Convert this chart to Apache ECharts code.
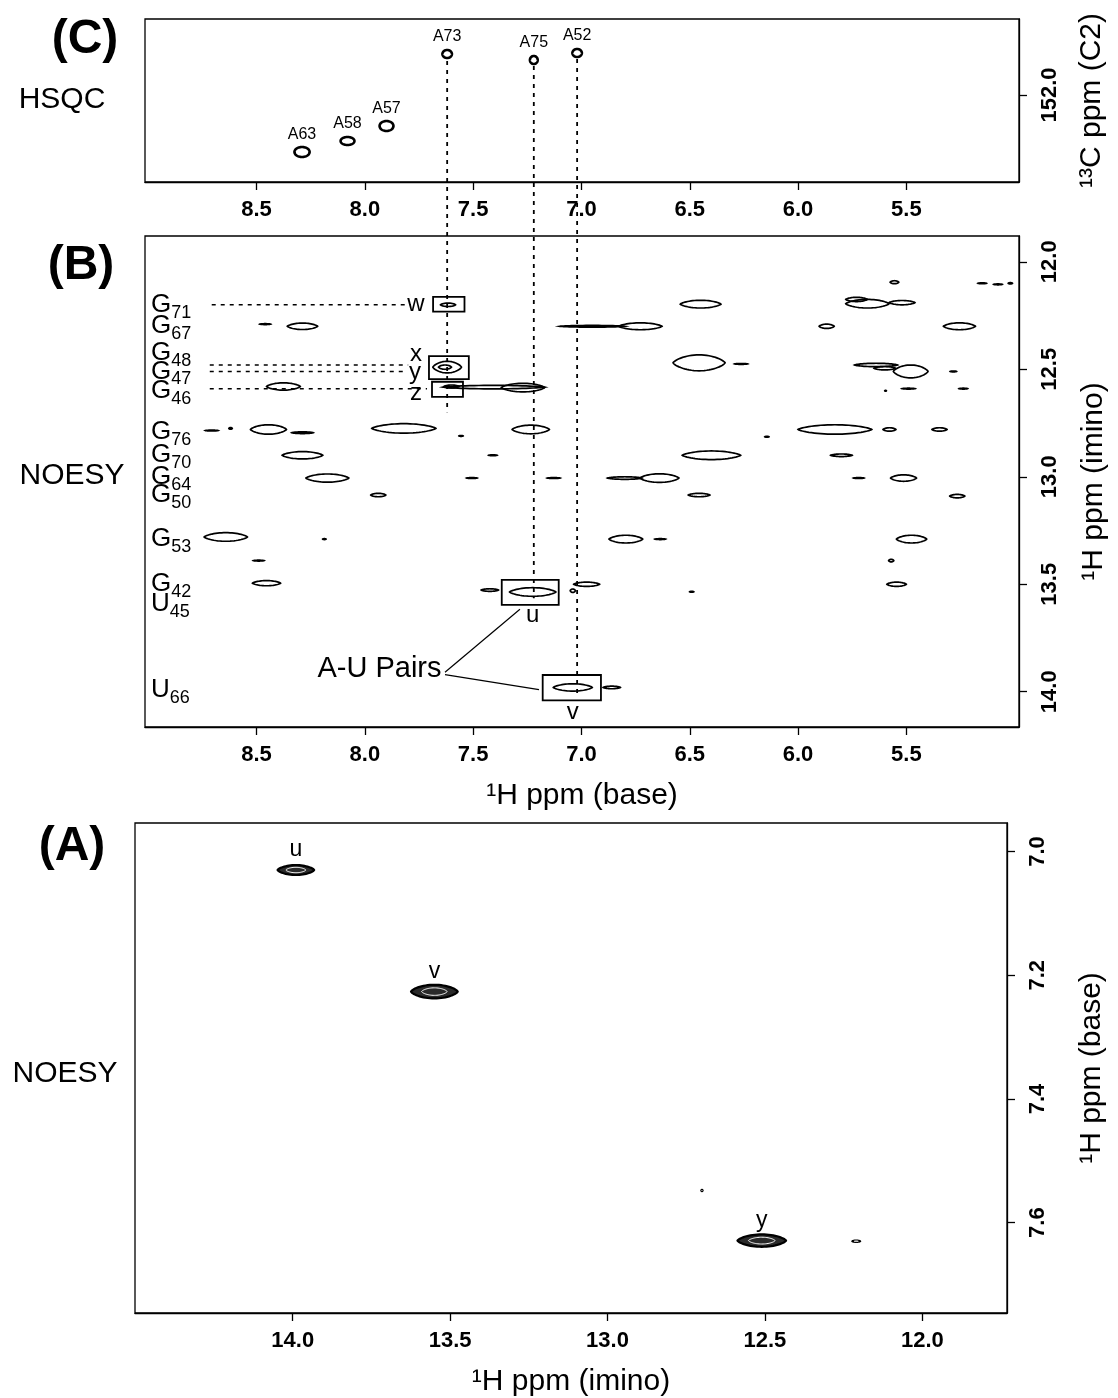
<!DOCTYPE html>
<html>
<head>
<meta charset="utf-8">
<script src="https://cdn.jsdelivr.net/npm/echarts@6/dist/echarts.min.js"></script>
<style>
    html, body { margin: 0; padding: 0; background: #fff; }
    #container { width: 1118px; height: 1398px; }
</style>
</head>
<body>
<div id="container"></div>
<script>
    // tick values
    var baseTicks = [8.5, 8.0, 7.5, 7.0, 6.5, 6.0, 5.5];
    var carbonTicks = [152.0];
    var iminoTicks = [12.0, 12.5, 13.0, 13.5, 14.0];
    var iminoTicksA = [14.0, 13.5, 13.0, 12.5, 12.0];
    var baseTicksA = [7.0, 7.2, 7.4, 7.6];

    // (C) HSQC: [1H base, 13C, half width 1H, half width 13C]
    var hsqcNames = ['A73', 'A75', 'A52', 'A57', 'A58', 'A63'];
    var hsqcPeaks = [[7.62, 151.18, 0.022, 0.08], [7.22, 151.30, 0.018, 0.08], [7.02, 151.16, 0.022, 0.08],
        [7.90, 152.62, 0.032, 0.10], [8.08, 152.92, 0.032, 0.08], [8.29, 153.14, 0.035, 0.10]];

    // (B) NOESY imino rows
    var rowNames = ['G71', 'G67', 'G48', 'G47', 'G46', 'G76', 'G70', 'G64', 'G50', 'G53', 'G42', 'U45', 'U66'];
    var rowShifts = [12.20, 12.30, 12.425, 12.51, 12.60, 12.79, 12.90, 13.00, 13.085, 13.29, 13.50, 13.59, 13.99];

    // (B) cross peaks: [1H base, 1H imino, half width base, half width imino]
    var noesyPeaks = [
        [7.616, 12.20, 0.035, 0.008], [6.45, 12.197, 0.094, 0.018], [5.68, 12.195, 0.10, 0.02],
        [5.52, 12.19, 0.06, 0.01], [5.73, 12.175, 0.05, 0.01], [5.555, 12.095, 0.02, 0.007],
        [5.15, 12.10, 0.02, 0.002], [5.077, 12.105, 0.02, 0.002], [5.02, 12.10, 0.01, 0.003],
        [8.46, 12.29, 0.025, 0.002], [8.288, 12.30, 0.07, 0.015], [6.95, 12.30, 0.15, 0.004],
        [6.728, 12.30, 0.10, 0.016], [5.868, 12.30, 0.035, 0.01], [5.255, 12.30, 0.074, 0.016],
        [7.62, 12.49, 0.066, 0.027], [7.63, 12.49, 0.03, 0.01], [6.457, 12.47, 0.12, 0.037],
        [6.263, 12.475, 0.03, 0.002], [5.64, 12.48, 0.10, 0.008], [5.48, 12.51, 0.08, 0.03],
        [5.60, 12.495, 0.05, 0.008], [5.283, 12.51, 0.015, 0.002], [5.49, 12.59, 0.03, 0.002],
        [5.596, 12.60, 0.004, 0.002], [5.237, 12.59, 0.02, 0.002],
        [8.376, 12.58, 0.078, 0.017], [7.60, 12.58, 0.035, 0.007], [7.405, 12.583, 0.235, 0.008],
        [7.27, 12.585, 0.10, 0.02],
        [8.707, 12.785, 0.03, 0.002], [8.62, 12.775, 0.008, 0.004], [8.445, 12.78, 0.083, 0.022],
        [8.288, 12.795, 0.05, 0.004], [7.82, 12.775, 0.148, 0.022], [7.556, 12.81, 0.01, 0.002],
        [7.234, 12.78, 0.086, 0.02], [6.144, 12.814, 0.01, 0.002], [5.83, 12.78, 0.17, 0.022],
        [5.578, 12.78, 0.03, 0.008], [5.347, 12.78, 0.035, 0.008],
        [8.288, 12.90, 0.094, 0.017], [7.409, 12.90, 0.02, 0.002], [6.40, 12.90, 0.135, 0.02],
        [5.80, 12.90, 0.05, 0.006],
        [8.173, 13.006, 0.099, 0.019], [7.506, 13.006, 0.025, 0.002], [7.128, 13.006, 0.03, 0.002],
        [6.80, 13.006, 0.08, 0.006], [6.64, 13.006, 0.09, 0.02], [5.72, 13.006, 0.025, 0.002],
        [5.513, 13.006, 0.06, 0.015],
        [7.938, 13.085, 0.035, 0.008], [6.457, 13.085, 0.05, 0.008], [5.265, 13.09, 0.035, 0.008],
        [8.642, 13.28, 0.10, 0.02], [8.187, 13.29, 0.008, 0.002], [6.795, 13.29, 0.078, 0.018],
        [6.636, 13.29, 0.025, 0.002], [5.476, 13.29, 0.07, 0.018],
        [8.49, 13.39, 0.025, 0.002], [5.57, 13.39, 0.012, 0.006],
        [8.454, 13.495, 0.065, 0.012], [7.423, 13.527, 0.04, 0.006], [7.225, 13.536, 0.107, 0.02],
        [7.04, 13.53, 0.012, 0.008], [6.976, 13.50, 0.06, 0.01], [6.491, 13.535, 0.01, 0.002],
        [5.545, 13.50, 0.045, 0.01],
        [7.04, 13.98, 0.09, 0.017], [6.86, 13.98, 0.04, 0.006]
    ];

    // (B) boxed peaks: [base from, base to, imino from, imino to]
    var boxNames = ['w', 'xy', 'z', 'u', 'v'];
    var boxRanges = [[7.685, 7.54, 12.163, 12.232], [7.704, 7.52, 12.439, 12.546], [7.69, 7.547, 12.558, 12.628],
        [7.368, 7.105, 13.48, 13.596], [7.179, 6.91, 13.922, 14.04]];

    // (B) peak letters
    var tagNames = ['w', 'x', 'y', 'z', 'u', 'v'];
    var tagSpots = [[7.764, 12.20], [7.764, 12.43], [7.769, 12.513], [7.764, 12.61], [7.225, 13.643], [7.04, 14.094]];

    // (B) dotted row guides: [base from, base to, imino]
    var rowGuides = [[8.707, 7.787, 12.20], [8.716, 7.80, 12.48], [8.716, 7.819, 12.51], [8.716, 7.713, 12.59]];

    // A-U pair leaders: [base, imino, base, imino]
    var pairLeaders = [[7.63, 13.909, 7.284, 13.616], [7.63, 13.92, 7.196, 13.99]];

    // C -> B dotted links: base shift, 13C start, imino end
    var linkBase = [7.62, 7.22, 7.02];
    var linkCarbon = [151.32, 151.42, 151.28];
    var linkImino = [12.70, 13.565, 14.02];

    // (A) NOESY: [1H imino, 1H base, half width imino, half width base]
    var aNames = ['u', 'v', 'y', '', ''];
    var aPeaks = [[13.99, 7.030, 0.058, 0.008], [13.55, 7.2265, 0.074, 0.011], [12.51, 7.629, 0.077, 0.01],
        [12.21, 7.63, 0.012, 0.001], [12.70, 7.548, 0.002, 0.001]];

    var FONT = '"Liberation Sans", Arial, Helvetica, sans-serif';
    var HIDDEN = { color: 'rgba(0,0,0,0)', opacity: 1 };

    function fmt(v) { return v.toFixed(1); }

    function lensSeries(idx, data, sharp, style, inner) {
        return {
            type: 'custom', xAxisIndex: idx, yAxisIndex: idx, silent: true, clip: false,
            data: data,
            renderItem: function (params, api) {
                var c = api.coord([api.value(0), api.value(1)]);
                var s = api.size([api.value(2), api.value(3)]);
                var make = function (k) {
                    var pts = [];
                    for (var i = 0; i < 64; i++) {
                        var t = i / 64 * Math.PI * 2;
                        var sn = Math.sin(t);
                        pts.push([c[0] + k * s[0] * Math.cos(t),
                            c[1] + k * s[1] * (sn < 0 ? -1 : 1) * Math.pow(Math.abs(sn), sharp)]);
                    }
                    return pts;
                };
                var children = [{ type: 'polygon', shape: { points: make(1) }, style: style }];
                if (inner) {
                    children.push({ type: 'polygon', shape: { points: make(0.55) }, style: inner });
                }
                return { type: 'group', children: children };
            }
        };
    }

    function textSeries(idx, data, label) {
        label.show = true;
        label.color = '#000';
        label.opacity = 1;
        label.fontFamily = FONT;
        return {
            type: 'scatter', xAxisIndex: idx, yAxisIndex: idx, silent: true, symbolSize: 1,
            itemStyle: HIDDEN, data: data, label: label
        };
    }

    function xAxisOf(idx, min, max, ticks, name) {
        return {
            type: 'value', gridIndex: idx, min: min, max: max, inverse: true,
            name: name || '', nameLocation: 'middle', nameGap: 54,
            nameTextStyle: { fontSize: 30, color: '#000', fontFamily: FONT },
            axisLine: { show: true, onZero: false, lineStyle: { color: '#000', width: 1.3 } },
            axisTick: { show: true, inside: false, length: 8, customValues: ticks, lineStyle: { color: '#000', width: 1.3 } },
            axisLabel: { customValues: ticks, formatter: fmt, fontSize: 22, fontWeight: 'bold', color: '#000', fontFamily: FONT, margin: 17 },
            splitLine: { show: false }
        };
    }

    function yAxisOf(idx, min, max, ticks, name, gap) {
        return {
            type: 'value', gridIndex: idx, min: min, max: max, inverse: true, position: 'right',
            name: name, nameLocation: 'middle', nameGap: gap, nameRotate: 90,
            nameTextStyle: { fontSize: 30, color: '#000', fontFamily: FONT },
            axisLine: { show: true, onZero: false, lineStyle: { color: '#000', width: 1.3 } },
            axisTick: { show: true, inside: false, length: 8, customValues: ticks, lineStyle: { color: '#000', width: 1.3 } },
            axisLabel: { customValues: ticks, formatter: fmt, rotate: 90, fontSize: 22, fontWeight: 'bold', color: '#000', fontFamily: FONT, margin: 20 },
            splitLine: { show: false }
        };
    }

    var gridStyle = { show: true, borderColor: '#000', borderWidth: 1.3, backgroundColor: 'transparent' };

    var dom = document.getElementById('container');
    var myChart = echarts.init(dom);

    var option = {
        animation: false,
        backgroundColor: '#fff',
        grid: [
            Object.assign({ left: 145, top: 19, width: 874, height: 163 }, gridStyle),
            Object.assign({ left: 145, top: 236, width: 874, height: 491 }, gridStyle),
            Object.assign({ left: 135, top: 823, width: 872, height: 495 }, gridStyle)
        ],
        xAxis: [
            xAxisOf(0, 4.98, 9.015, baseTicks),
            xAxisOf(1, 4.98, 9.015, baseTicks, '\u00b9H ppm (base)'),
            xAxisOf(2, 11.731, 14.501, iminoTicksA, '\u00b9H ppm (imino)')
        ],
        yAxis: [
            yAxisOf(0, 150.48, 153.74, carbonTicks, '\u00b9\u00b3C ppm (C2)', 58),
            yAxisOf(1, 11.88, 14.164, iminoTicks, '\u00b9H ppm (imino)', 60),
            yAxisOf(2, 6.954, 7.746, baseTicksA, '\u00b9H ppm (base)', 70)
        ],
        graphic: [
            { type: 'text', id: 'tc', x: 85, y: 40, style: { text: '(C)', font: 'bold 48px ' + FONT, fill: '#000', align: 'center', verticalAlign: 'middle' } },
            { type: 'text', id: 'th', x: 62, y: 100, style: { text: 'HSQC', font: '30px ' + FONT, fill: '#000', align: 'center', verticalAlign: 'middle' } },
            { type: 'text', id: 'tb', x: 81, y: 266, style: { text: '(B)', font: 'bold 48px ' + FONT, fill: '#000', align: 'center', verticalAlign: 'middle' } },
            { type: 'text', id: 'nb', x: 72, y: 476, style: { text: 'NOESY', font: '30px ' + FONT, fill: '#000', align: 'center', verticalAlign: 'middle' } },
            { type: 'text', id: 'ta', x: 72, y: 847, style: { text: '(A)', font: 'bold 48px ' + FONT, fill: '#000', align: 'center', verticalAlign: 'middle' } },
            { type: 'text', id: 'na', x: 65, y: 1074, style: { text: 'NOESY', font: '30px ' + FONT, fill: '#000', align: 'center', verticalAlign: 'middle' } }
        ],
        series: [
            // C peaks
            lensSeries(0, hsqcPeaks, 1, { fill: 'none', stroke: '#000', lineWidth: 2.6 }),
            textSeries(0, hsqcPeaks.map(function (p, i) { return { name: hsqcNames[i], value: [p[0], p[1]] }; }),
                { position: 'top', distance: 9, formatter: '{b}', fontSize: 16 }),
            // B peaks
            lensSeries(1, noesyPeaks, 1.5, { fill: 'none', stroke: '#000', lineWidth: 1.7 }),
            // B boxes
            {
                type: 'custom', xAxisIndex: 1, yAxisIndex: 1, silent: true,
                data: boxRanges,
                renderItem: function (params, api) {
                    var a = api.coord([api.value(0), api.value(2)]);
                    var b = api.coord([api.value(1), api.value(3)]);
                    return {
                        type: 'rect',
                        shape: { x: Math.min(a[0], b[0]), y: Math.min(a[1], b[1]), width: Math.abs(b[0] - a[0]), height: Math.abs(b[1] - a[1]) },
                        style: { fill: 'none', stroke: '#000', lineWidth: 1.8 }
                    };
                }
            },
            // B row guides
            {
                type: 'custom', xAxisIndex: 1, yAxisIndex: 1, silent: true,
                data: rowGuides,
                renderItem: function (params, api) {
                    var a = api.coord([api.value(0), api.value(2)]);
                    var b = api.coord([api.value(1), api.value(2)]);
                    return { type: 'line', shape: { x1: a[0], y1: a[1], x2: b[0], y2: b[1] }, style: { stroke: '#000', lineWidth: 1.5, lineDash: [4, 5] } };
                }
            },
            // A-U pair leaders
            {
                type: 'custom', xAxisIndex: 1, yAxisIndex: 1, silent: true,
                data: pairLeaders,
                renderItem: function (params, api) {
                    var a = api.coord([api.value(0), api.value(1)]);
                    var b = api.coord([api.value(2), api.value(3)]);
                    return { type: 'line', shape: { x1: a[0], y1: a[1], x2: b[0], y2: b[1] }, style: { stroke: '#000', lineWidth: 1.2 } };
                }
            },
            // row names
            textSeries(1, rowNames.map(function (n, i) { return { name: n, value: [8.99, rowShifts[i]] }; }), {
                position: 'right', distance: 0,
                formatter: function (p) { return '{g|' + p.name.charAt(0) + '}{s|' + p.name.slice(1) + '}'; },
                rich: {
                    g: { fontSize: 26, lineHeight: 26, verticalAlign: 'top', color: '#000', fontFamily: FONT },
                    s: { fontSize: 18, lineHeight: 18, verticalAlign: 'top', padding: [12, 0, 0, 0], color: '#000', fontFamily: FONT }
                }
            }),
            // peak letters
            textSeries(1, tagNames.map(function (n, i) { return { name: n, value: tagSpots[i] }; }),
                { position: 'inside', formatter: '{b}', fontSize: 24 }),
            textSeries(1, [{ name: 'A-U Pairs', value: [pairLeaders[0][0], 13.895] }],
                { position: 'left', distance: 3, formatter: '{b}', fontSize: 29 }),
            // A peaks
            lensSeries(2, aPeaks, 1.4, { fill: '#2a2a2a', stroke: '#000', lineWidth: 2.2 }, { fill: 'none', stroke: '#fff', lineWidth: 1 }),
            textSeries(2, aPeaks.map(function (p, i) { return { name: aNames[i], value: [p[0], p[1]] }; }),
                { position: 'top', distance: 8, formatter: '{b}', fontSize: 23 })
        ]
    };

    myChart.setOption(option);

    // dotted links from HSQC peaks down into the NOESY panel
    var links = linkBase.map(function (x, i) {
        var a = myChart.convertToPixel({ gridIndex: 0 }, [x, linkCarbon[i]]);
        var b = myChart.convertToPixel({ gridIndex: 1 }, [x, linkImino[i]]);
        return {
            type: 'line', id: 'link' + i, silent: true,
            shape: { x1: a[0], y1: a[1], x2: b[0], y2: b[1] },
            style: { stroke: '#000', lineWidth: 1.8, lineDash: [4, 5] }
        };
    });
    myChart.setOption({ graphic: links });
</script>
</body>
</html>
